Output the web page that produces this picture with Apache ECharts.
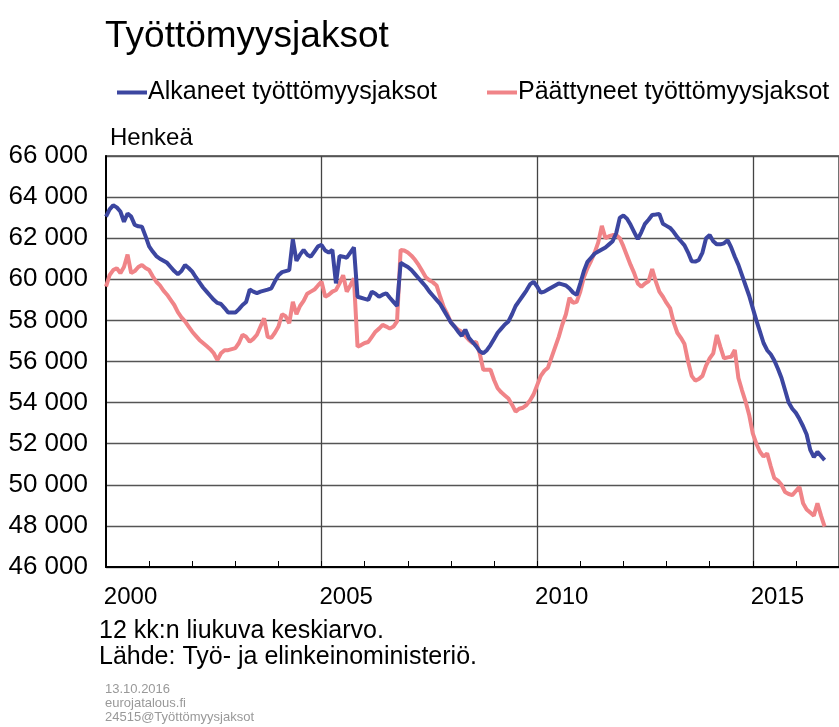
<!DOCTYPE html>
<html>
<head>
<meta charset="utf-8">
<title>Työttömyysjaksot</title>
<script src="https://cdn.jsdelivr.net/npm/echarts@6/dist/echarts.min.js"></script>
<style>
  html, body { margin: 0; padding: 0; background: #fff; }
  #chart { width: 839px; height: 727px; }
</style>
</head>
<body>
<div id="chart"></div>
<script>
// Kuukaudet 2000-01 ... 2017-01 (akseli jatkuu datan ohi)
const months = []
for (let y = 2000; y <= 2016; y++) {
  for (let m = 1; m <= 12; m++) months.push(y + '-' + String(m).padStart(2, '0'))
}
months.push('2017-01')

const yearLabels = ['2000', '2005', '2010', '2015']

// Alkaneet työttömyysjaksot, 12 kk liukuva keskiarvo (2000-01 ... 2016-09)
const alkaneet = [
  63050, 63400, 63600, 63500, 63300, 62800, 63200, 63050, 62650, 62580, 62560, 62100,
  61600, 61350, 61130, 61000, 60900, 60800, 60600, 60400, 60250, 60400, 60700, 60550,
  60370, 60100, 59850, 59600, 59400, 59200, 59000, 58850, 58800, 58600, 58380, 58380,
  58380, 58550, 58750, 58900, 59500, 59400, 59330, 59400, 59450, 59500, 59560, 59900,
  60200, 60350, 60400, 60450, 61950, 60900, 61200, 61430, 61200, 61100, 61350, 61600,
  61670, 61400, 61300, 61430, 59800, 61130, 61100, 61050, 61300, 61550, 59150, 59100,
  59050, 59000, 59400, 59300, 59150, 59250, 59320, 59100, 58900, 58700, 60800, 60700,
  60600, 60450, 60250, 60050, 59850, 59650, 59400, 59200, 59000, 58800, 58500, 58200,
  57900, 57700, 57450, 57250, 57550, 57150, 56950, 56750, 56500, 56400, 56550, 56800,
  57100, 57400, 57600, 57800, 57950, 58300, 58700, 58950, 59200, 59450, 59750, 59880,
  59650, 59350, 59400, 59500, 59600, 59700, 59800, 59750, 59700, 59550, 59350, 59240,
  59800, 60400, 60850, 61050, 61250, 61350, 61450, 61550, 61700, 61850, 62250, 63000,
  63100, 62950, 62650, 62300, 61950, 62300, 62700, 62900, 63130, 63150, 63180, 62700,
  62600, 62500, 62300, 62050, 61850, 61650, 61300, 60880, 60860, 60940, 61300, 62000,
  62150, 61850, 61700, 61700, 61750, 61900, 61550, 61100, 60700, 60200, 59700, 59200,
  58600, 58000, 57450, 56900, 56550, 56350, 56050, 55650, 55200, 54600, 54000, 53700,
  53500, 53200, 52850, 52450, 51700, 51350, 51600, 51400, 51200
]

// Päättyneet työttömyysjaksot, 12 kk liukuva keskiarvo (2000-01 ... 2016-09)
const paattyneet = [
  59640, 60200, 60450, 60540, 60300, 60600, 61200, 60300, 60400, 60600, 60700, 60550,
  60450, 60150, 59880, 59700, 59450, 59250, 59000, 58750, 58400, 58150, 57950, 57700,
  57450, 57250, 57050, 56900, 56750, 56600, 56400, 56070, 56400, 56550, 56550, 56600,
  56650, 56900, 57300, 57200, 56960, 57100, 57300, 57700, 58100, 57200, 57150, 57400,
  57700, 58300, 58200, 57860, 58900, 58300, 58700, 58950, 59300, 59400, 59500, 59700,
  59880, 59150, 59250, 59400, 59480, 59800, 60200, 59400, 59700, 60050, 56720, 56800,
  56900, 56950, 57200, 57450, 57600, 57780, 57700, 57600, 57700, 57950, 61430, 61400,
  61300, 61150, 60950, 60700, 60400, 60100, 59950, 59850, 59700, 59150, 58650, 58300,
  57900, 57700, 57550, 57450, 57250, 57050, 56900, 56950, 56400, 55600, 55600, 55600,
  55100, 54700, 54500, 54350, 54200, 53900, 53560, 53700, 53750, 53880, 54100, 54400,
  54850, 55300, 55550, 55700, 56200, 56700, 57200, 57800, 58300, 59100, 58850, 58900,
  59400, 60100, 60550, 60900, 61300, 61800, 62600, 62000, 62100, 62150, 62150, 62000,
  61600, 61150, 60700, 60300, 59800, 59640, 59800, 59900, 60500, 59900, 59400, 59150,
  58850, 58600, 57900, 57400, 57150, 56850, 56000, 55300, 55070, 55150, 55300, 55800,
  56150, 56400, 57290, 56700, 56150, 56200, 56230, 56560, 55200, 54600, 54050, 53400,
  52500, 52000, 51610, 51370, 51530, 50900, 50320, 50200, 50000, 49650, 49550, 49500,
  49700, 49900, 49100, 48800, 48650, 48500, 49100, 48500, 47960
]

const font = 'Liberation Sans, Arial, sans-serif'

const chart = echarts.init(document.getElementById('chart'))

const option = {
  animation: false,
  textStyle: { fontFamily: font, color: '#000' },
  title: {
    text: 'Työttömyysjaksot',
    left: 100,
    top: 13,
    textStyle: { fontFamily: font, fontSize: 37, fontWeight: 'normal', color: '#000' }
  },
  legend: {
    left: 112,
    top: 75,
    icon: 'rect',
    itemWidth: 30,
    itemHeight: 4,
    itemGap: 50,
    textStyle: { fontFamily: font, fontSize: 25, color: '#000', padding: [0, 0, 0, -4] },
    data: ['Alkaneet työttömyysjaksot', 'Päättyneet työttömyysjaksot']
  },
  grid: {
    left: 106,
    top: 156,
    right: 0,
    bottom: 160,
    show: true,
    borderColor: '#444',
    borderWidth: 1.5
  },
  xAxis: {
    type: 'category',
    data: months,
    boundaryGap: false,
    axisLine: { lineStyle: { color: '#000', width: 2 } },
    axisTick: {
      inside: true,
      length: 6,
      interval: (i) => i % 12 === 0,
      lineStyle: { color: '#000', width: 1 }
    },
    axisLabel: {
      interval: (i) => i % 12 === 6 && yearLabels.includes(months[i].slice(0, 4)),
      formatter: (v) => v.slice(0, 4),
      fontFamily: font,
      fontSize: 24,
      color: '#000',
      margin: 18,
      padding: [0, 0, 0, 6]
    },
    splitLine: {
      show: true,
      interval: (i) => i > 0 && i % 60 === 0,
      lineStyle: { color: '#444', width: 1.3 }
    }
  },
  yAxis: {
    type: 'value',
    min: 46000,
    max: 66000,
    interval: 2000,
    name: 'Henkeä',
    nameLocation: 'end',
    nameGap: 6,
    nameTextStyle: { fontFamily: font, fontSize: 24, color: '#000', align: 'left', padding: [0, 0, 0, 4] },
    axisLine: { show: true, lineStyle: { color: '#000', width: 2 } },
    axisTick: { show: false },
    axisLabel: {
      formatter: (v) => String(v).replace(/\B(?=(\d{3})+(?!\d))/g, ' '),
      fontFamily: font,
      fontSize: 26,
      color: '#000',
      margin: 18
    },
    splitLine: { lineStyle: { color: '#555', width: 1.3 } }
  },
  series: [
    {
      name: 'Alkaneet työttömyysjaksot',
      type: 'line',
      data: alkaneet,
      showSymbol: false,
      color: '#3c46a0',
      lineStyle: { width: 4, color: '#3c46a0' },
      z: 3
    },
    {
      name: 'Päättyneet työttömyysjaksot',
      type: 'line',
      data: paattyneet,
      showSymbol: false,
      color: '#f08488',
      lineStyle: { width: 4, color: '#f08488' },
      z: 2
    }
  ],
  graphic: [
    { type: 'text', left: 99, top: 619, style: { text: '12 kk:n liukuva keskiarvo.', font: '25px ' + font, fill: '#000' } },
    { type: 'text', left: 99, top: 645, style: { text: 'Lähde: Työ- ja elinkeinoministeriö.', font: '25px ' + font, fill: '#000' } },
    { type: 'text', left: 105, top: 683, style: { text: '13.10.2016', font: '13px ' + font, fill: '#999' } },
    { type: 'text', left: 105, top: 697, style: { text: 'eurojatalous.fi', font: '13px ' + font, fill: '#999' } },
    { type: 'text', left: 105, top: 711, style: { text: '24515@Työttömyysjaksot', font: '13px ' + font, fill: '#999' } }
  ]
}

chart.setOption(option)
</script>
</body>
</html>
